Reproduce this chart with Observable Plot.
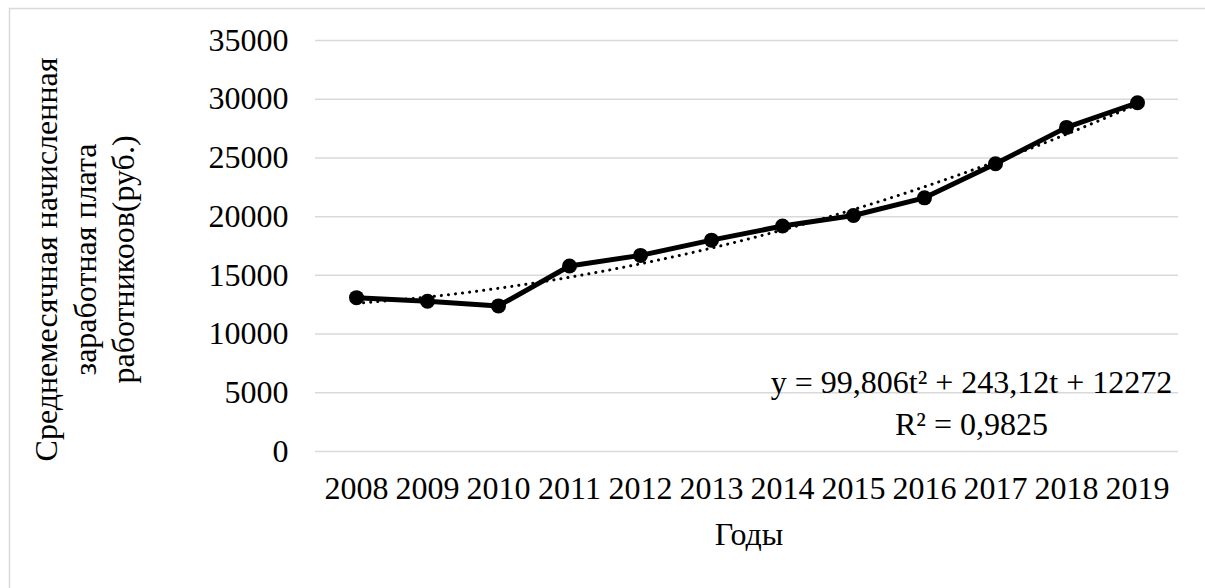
<!DOCTYPE html>
<html>
<head>
<meta charset="utf-8">
<script src="https://cdn.jsdelivr.net/npm/d3@7"></script>
<script src="https://cdn.jsdelivr.net/npm/@observablehq/plot@0.6"></script>
<style>
  html, body { margin: 0; padding: 0; background: #fff; overflow: hidden; }
  #chart { width: 1205px; height: 588px; overflow: hidden; }
  #chart svg, #chart svg text { font-family: 'Liberation Serif', 'Times New Roman', serif !important; }
</style>
</head>
<body>
<div id="chart"></div>
<script>
const years = ["2008","2009","2010","2011","2012","2013","2014","2015","2016","2017","2018","2019"];
const wages = [13100, 12800, 12400, 15800, 16700, 18000, 19200, 20100, 21600, 24500, 27600, 29700];
// polynomial trend values as shown by the chart's trendline
const trend = [12615, 13158, 13900, 14841, 15983, 17324, 18864, 20605, 22544, 24684, 27023, 29562];
const yTicks = [0, 5000, 10000, 15000, 20000, 25000, 30000, 35000];
const equationLines = ["y = 99,806t² + 243,12t + 12272", "R² = 0,9825"];
const yLabelLines = ["Среднемесячная начисленная", "заработная плата", "работникоов(руб.)"];
const xLabel = "Годы";

const rows = years.map((y, i) => ({year: y, wage: wages[i], trend: trend[i]}));

const font = "Liberation Serif";
const fs = 32;

const plot = Plot.plot({
  width: 1205,
  height: 588,
  marginLeft: 315,
  marginRight: 27,
  marginTop: 40,
  marginBottom: 137,
  style: {fontFamily: font, fontSize: fs + "px", color: "#000", background: "#fff"},
  x: {type: "point", domain: years, padding: 0.5, label: null},
  y: {domain: [0, 35000], label: null},
  marks: [
    Plot.gridY(yTicks, {stroke: "#d9d9d9", strokeOpacity: 1, strokeWidth: 1.5}),
    Plot.axisY(yTicks, {tickSize: 0, tickPadding: 27, tickFormat: d3.format("d"), label: null, fontSize: fs, fontFamily: font}),
    Plot.axisX(years, {tickSize: 0, tickPadding: 25, label: null, fontSize: fs, fontFamily: font}),
    Plot.line(rows, {x: "year", y: "wage", stroke: "#000", strokeWidth: 5, strokeLinejoin: "round"}),
    Plot.dot(rows, {x: "year", y: "wage", r: 7.5, fill: "#000", stroke: "none"}),
    Plot.line(rows, {x: "year", y: "trend", stroke: "#000", strokeWidth: 3, strokeLinecap: "round", strokeDasharray: "0.1 7", curve: "natural"}),
    Plot.text([equationLines.join("\n")], {x: () => "2017", y: () => 4350, dx: -24, text: d => d, fontSize: fs, fontFamily: font, lineHeight: 1.31, textAnchor: "middle", lineAnchor: "middle", fill: "#000"}),
    Plot.text([yLabelLines.join("\n")], {frameAnchor: "left", text: d => d, rotate: -90, dx: -232, dy: 13.5, fontSize: fs, fontFamily: font, lineHeight: 1.2, textAnchor: "middle", lineAnchor: "middle", fill: "#000"}),
    Plot.text([xLabel], {frameAnchor: "bottom", text: d => d, dx: 2, dy: 82.8, fontSize: fs, fontFamily: font, textAnchor: "middle", lineAnchor: "middle", fill: "#000"})
  ]
});

d3.select(plot).insert("path", ":first-child")
  .attr("d", "M9.5,588V8.5H1205")
  .attr("fill", "none").attr("stroke", "#d9d9d9").attr("stroke-width", 1.5);

document.getElementById("chart").appendChild(plot);
</script>
</body>
</html>
